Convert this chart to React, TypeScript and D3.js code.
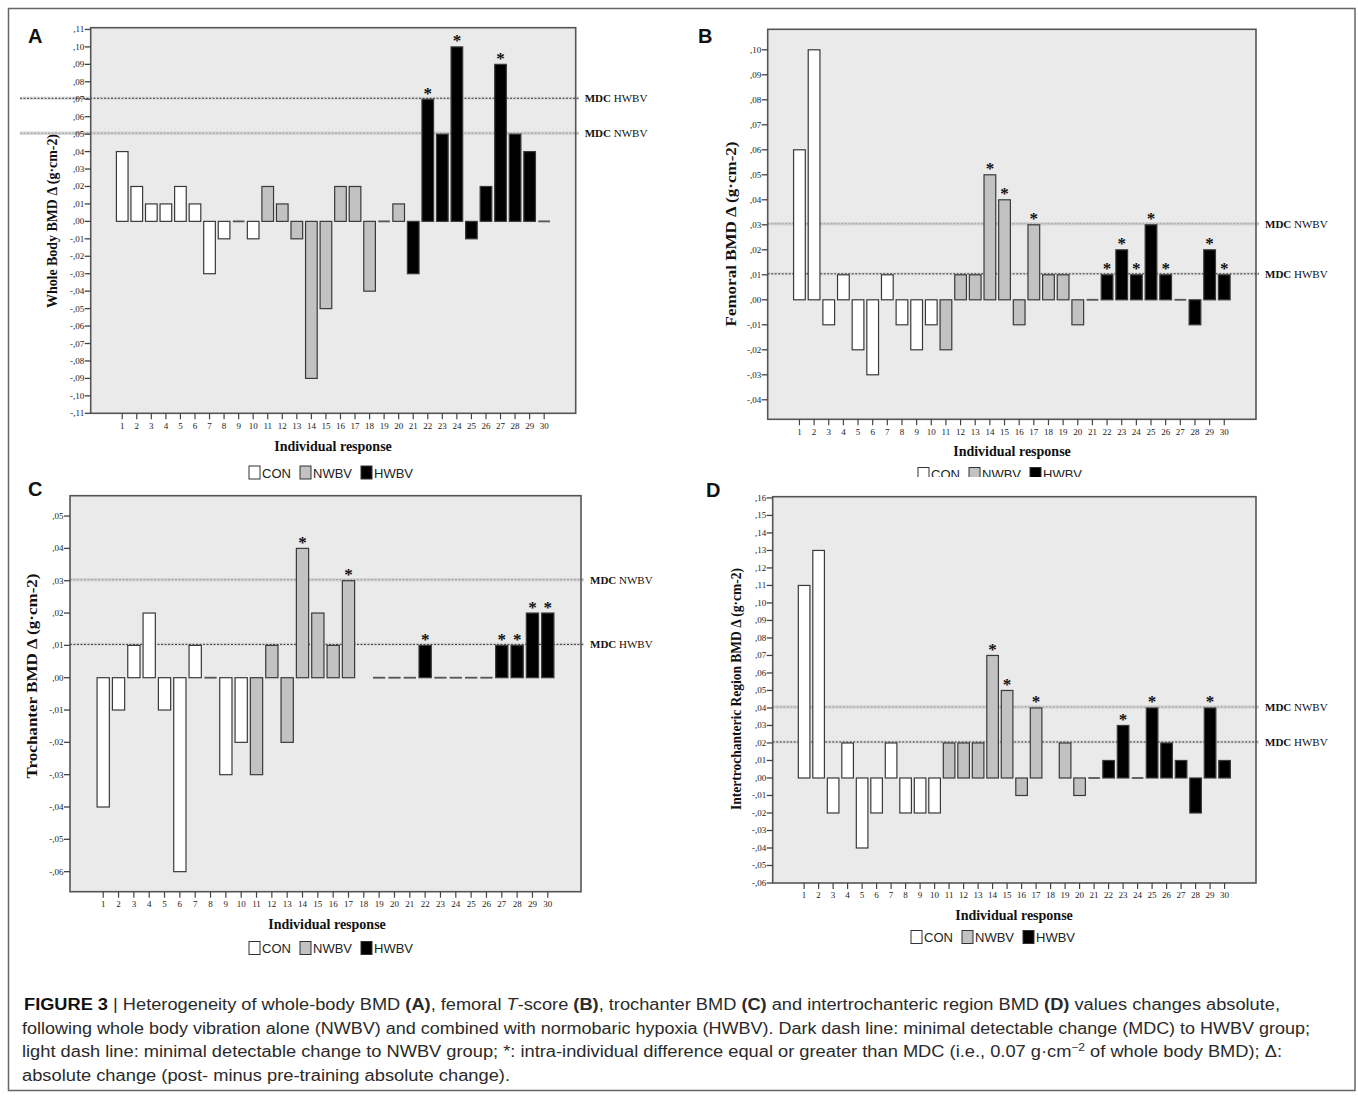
import React from 'react'
import * as d3 from 'd3'

// participants and their training group
const subjects = [1, 2, 3, 4, 5, 6, 7, 8, 9, 10, 11, 12, 13, 14, 15, 16, 17, 18, 19, 20, 21, 22, 23, 24, 25, 26, 27, 28, 29, 30]
const subjectGroup = [
  'CON', 'CON', 'CON', 'CON', 'CON', 'CON', 'CON', 'CON', 'CON', 'CON',
  'NWBV', 'NWBV', 'NWBV', 'NWBV', 'NWBV', 'NWBV', 'NWBV', 'NWBV', 'NWBV', 'NWBV',
  'HWBV', 'HWBV', 'HWBV', 'HWBV', 'HWBV', 'HWBV', 'HWBV', 'HWBV', 'HWBV', 'HWBV',
]
const groups = ['CON', 'NWBV', 'HWBV']
const groupFill: Record<string, string> = { CON: '#ffffff', NWBV: '#c2c2c2', HWBV: '#000000' }

// A - whole body BMD change
const wholeBodyValues = [0.04, 0.02, 0.01, 0.01, 0.02, 0.01, -0.03, -0.01, 0, -0.01, 0.02, 0.01, -0.01, -0.09, -0.05, 0.02, 0.02, -0.04, 0, 0.01, -0.03, 0.07, 0.05, 0.1, -0.01, 0.02, 0.09, 0.05, 0.04, 0]
const wholeBodyStars = [22, 24, 27]
const wholeBodyTicks = [-0.11, -0.1, -0.09, -0.08, -0.07, -0.06, -0.05, -0.04, -0.03, -0.02, -0.01, 0, 0.01, 0.02, 0.03, 0.04, 0.05, 0.06, 0.07, 0.08, 0.09, 0.1, 0.11]
const wholeBodyDomain = [-0.11, 0.111]
const wholeBodyMdc = [{ group: 'HWBV', value: 0.07 }, { group: 'NWBV', value: 0.05 }]

// B - femoral
const femoralValues = [0.06, 0.1, -0.01, 0.01, -0.02, -0.03, 0.01, -0.01, -0.02, -0.01, -0.02, 0.01, 0.01, 0.05, 0.04, -0.01, 0.03, 0.01, 0.01, -0.01, 0, 0.01, 0.02, 0.01, 0.03, 0.01, 0, -0.01, 0.02, 0.01]
const femoralStars = [14, 15, 17, 22, 23, 24, 25, 26, 29, 30]
const femoralTicks = [-0.04, -0.03, -0.02, -0.01, 0, 0.01, 0.02, 0.03, 0.04, 0.05, 0.06, 0.07, 0.08, 0.09, 0.1]
const femoralDomain = [-0.0478, 0.1082]
const femoralMdc = [{ group: 'NWBV', value: 0.03 }, { group: 'HWBV', value: 0.01 }]

// C - trochanter
const trochanterValues = [-0.04, -0.01, 0.01, 0.02, -0.01, -0.06, 0.01, 0, -0.03, -0.02, -0.03, 0.01, -0.02, 0.04, 0.02, 0.01, 0.03, null, 0, 0, 0, 0.01, 0, 0, 0, 0, 0.01, 0.01, 0.02, 0.02]
const trochanterStars = [14, 17, 22, 27, 28, 29, 30]
const trochanterTicks = [-0.06, -0.05, -0.04, -0.03, -0.02, -0.01, 0, 0.01, 0.02, 0.03, 0.04, 0.05]
const trochanterDomain = [-0.0662, 0.0563]
const trochanterMdc = [{ group: 'NWBV', value: 0.03 }, { group: 'HWBV', value: 0.01 }]

// D - intertrochanteric region
const intertrochValues = [0.11, 0.13, -0.02, 0.02, -0.04, -0.02, 0.02, -0.02, -0.02, -0.02, 0.02, 0.02, 0.02, 0.07, 0.05, -0.01, 0.04, null, 0.02, -0.01, 0, 0.01, 0.03, 0, 0.04, 0.02, 0.01, -0.02, 0.04, 0.01]
const intertrochStars = [14, 15, 17, 23, 25, 29]
const intertrochTicks = [-0.06, -0.05, -0.04, -0.03, -0.02, -0.01, 0, 0.01, 0.02, 0.03, 0.04, 0.05, 0.06, 0.07, 0.08, 0.09, 0.1, 0.11, 0.12, 0.13, 0.14, 0.15, 0.16]
const intertrochDomain = [-0.06, 0.1607]
const intertrochMdc = [{ group: 'NWBV', value: 0.04 }, { group: 'HWBV', value: 0.02 }]

const serif = '"Liberation Serif", "Times New Roman", serif'
const sans = '"Liberation Sans", Arial, sans-serif'

const fmt = (v: number) => {
  const s = String(Math.abs(Math.round(v * 100))).padStart(2, '0')
  return (v < -1e-9 ? '-' : '') + ',' + s
}

function Panel({ p }: { p: any }) {
  const { left, top, right, bottom } = p.frame
  const w = right - left
  const x = d3
    .scaleBand<number>()
    .domain(subjects)
    .range([left + w * 0.05, right - w * 0.05])
    .paddingInner(0.2)
    .paddingOuter(0.1)
  const y = d3.scaleLinear().domain(p.domain).range([bottom, top])
  const bw = x.bandwidth()
  const y0 = y(0)

  // legend layout
  const legendItems = [
    { g: groups[0], tw: 29 },
    { g: groups[1], tw: 39 },
    { g: groups[2], tw: 39 },
  ]
  const legendW = legendItems.reduce((s, d) => s + 13 + d.tw, 0) + 18
  let lx = p.legendCx - legendW / 2
  const legendPos = legendItems.map((d) => {
    const pos = lx
    lx += 13 + d.tw + 9
    return { ...d, x: pos }
  })

  return (
    <g clipPath={p.clip ? `url(#${p.clip})` : undefined}>
      <text x={p.letterX} y={p.letterY} fontFamily={sans} fontWeight="bold" fontSize={20} fill="#111">
        {p.letter}
      </text>
      <rect x={left} y={top} width={w} height={bottom - top} fill="#eaeaea" />

      {/* MDC lines */}
      {p.mdc.map((m: any) => (
        <g key={m.group}>
          <line
            x1={p.mdcStart ?? left}
            x2={right + 3}
            y1={y(m.value) - 1}
            y2={y(m.value) - 1}
            stroke={m.group === 'HWBV' ? '#dcdcdc' : '#d0d0d0'}
            strokeWidth={3.5}
            opacity={0.8}
          />
          <line
            x1={p.mdcStart ?? left}
            x2={right + 3}
            y1={y(m.value) - 1}
            y2={y(m.value) - 1}
            stroke={m.group === 'HWBV' ? '#333' : '#999'}
            strokeWidth={1}
            strokeDasharray="2,1.5"
          />
          <text x={right + 9} y={y(m.value) + 3} fontFamily={serif} fontSize={11} fill="#111">
            <tspan fontWeight="bold">MDC</tspan> {m.group}
          </text>
        </g>
      ))}

      {/* bars */}
      {subjects.map((s, i) => {
        const v = p.values[i]
        if (v === null || v === undefined) return null
        const g = subjectGroup[i]
        if (v === 0) {
          return (
            <line key={s} x1={x(s)!} x2={x(s)! + bw} y1={y0} y2={y0} stroke="#555" strokeWidth={1.8} />
          )
        }
        return (
          <rect
            key={s}
            x={x(s)}
            y={Math.min(y(v), y0)}
            width={bw}
            height={Math.abs(y(v) - y0)}
            fill={groupFill[g]}
            stroke="#3a3a3a"
            strokeWidth={1.2}
          />
        )
      })}

      {/* significance */}
      {p.stars.map((s: number) => {
        const v = p.values[s - 1]
        return (
          <text
            key={s}
            x={x(s)! + bw / 2}
            y={y(v) - 0.5}
            textAnchor="middle"
            fontFamily={serif}
            fontWeight="bold"
            fontSize={17}
            fill="#111"
          >
            *
          </text>
        )
      })}

      <rect x={left} y={top} width={w} height={bottom - top} fill="none" stroke="#555" strokeWidth={1.6} />

      {/* y axis */}
      {p.ticks.map((t: number) => (
        <g key={t}>
          <line x1={left - 6} x2={left} y1={y(t)} y2={y(t)} stroke="#444" strokeWidth={1.3} />
          <text x={left - 6.5} y={y(t) + 3} textAnchor="end" fontFamily={serif} fontSize={9} fill="#222">
            {fmt(t)}
          </text>
        </g>
      ))}
      <text
        transform={`translate(${p.yLabelX},${p.yLabelCy}) rotate(-90)`}
        textAnchor="middle"
        fontFamily={serif}
        fontWeight="bold"
        fontSize={14}
        fill="#111"
        textLength={p.yLabelLen}
        lengthAdjust="spacingAndGlyphs"
      >
        {p.yLabel}
      </text>

      {/* x axis */}
      {subjects.map((s) => (
        <g key={s}>
          <line x1={x(s)! + bw / 2} x2={x(s)! + bw / 2} y1={bottom} y2={bottom + 6} stroke="#444" strokeWidth={1.2} />
          <text x={x(s)! + bw / 2} y={p.xLabelY + 3} textAnchor="middle" fontFamily={serif} fontSize={9} fill="#222">
            {s}
          </text>
        </g>
      ))}
      <text x={p.xTitleCx} y={p.xTitleY + 5} textAnchor="middle" fontFamily={serif} fontWeight="bold" fontSize={14} fill="#111">
        Individual response
      </text>

      {/* legend */}
      {legendPos.map((d) => (
        <g key={d.g}>
          <rect x={d.x} y={p.legendY - 6.5} width={11} height={13} fill={groupFill[d.g]} stroke="#333" strokeWidth={1} />
          <text x={d.x + 13} y={p.legendY + 5} fontFamily={sans} fontSize={13} fill="#222">
            {d.g}
          </text>
        </g>
      ))}
    </g>
  )
}

const panels = [
  {
    letter: 'A', letterX: 28, letterY: 43,
    frame: { left: 90.7, top: 27.7, right: 575.7, bottom: 413.3 },
    values: wholeBodyValues, stars: wholeBodyStars, ticks: wholeBodyTicks, domain: wholeBodyDomain, mdc: wholeBodyMdc,
    mdcStart: 20,
    yLabel: 'Whole Body BMD Δ (g·cm-2)', yLabelX: 57, yLabelCy: 221, yLabelLen: 174,
    xLabelY: 425.7, xTitleCx: 333, xTitleY: 446, legendY: 472.5, legendCx: 331,
  },
  {
    letter: 'B', letterX: 698, letterY: 43,
    frame: { left: 767.7, top: 29.3, right: 1256, bottom: 419.3 },
    values: femoralValues, stars: femoralStars, ticks: femoralTicks, domain: femoralDomain, mdc: femoralMdc,
    yLabel: 'Femoral BMD Δ (g·cm-2)', yLabelX: 736, yLabelCy: 234, yLabelLen: 185,
    xLabelY: 432, xTitleCx: 1012, xTitleY: 451, legendY: 474, legendCx: 1000, clip: 'clipB',
  },
  {
    letter: 'C', letterX: 28, letterY: 496,
    frame: { left: 70, top: 495.7, right: 581, bottom: 891.7 },
    values: trochanterValues, stars: trochanterStars, ticks: trochanterTicks, domain: trochanterDomain, mdc: trochanterMdc,
    yLabel: 'Trochanter BMD Δ (g·cm-2)', yLabelX: 37, yLabelCy: 676, yLabelLen: 205,
    xLabelY: 904, xTitleCx: 327, xTitleY: 924, legendY: 948, legendCx: 331,
  },
  {
    letter: 'D', letterX: 706, letterY: 497,
    frame: { left: 772.7, top: 496.7, right: 1256, bottom: 883 },
    values: intertrochValues, stars: intertrochStars, ticks: intertrochTicks, domain: intertrochDomain, mdc: intertrochMdc,
    yLabel: 'Intertrochanteric Region BMD Δ (g·cm-2)', yLabelX: 741, yLabelCy: 689, yLabelLen: 242,
    xLabelY: 895, xTitleCx: 1014, xTitleY: 915, legendY: 937, legendCx: 993,
  },
]

export default function App() {
  return (
    <svg
      width={1358}
      height={1097}
      style={{ position: 'absolute', left: 0, top: 0, background: '#fff' }}
    >
      <defs>
        <clipPath id="clipB">
          <rect x={680} y={0} width={678} height={477} />
        </clipPath>
      </defs>
      <rect x={8.5} y={8.5} width={1346.5} height={1082} fill="#fff" stroke="#666" strokeWidth={1.5} />

      {panels.map((p) => (
        <Panel key={p.letter} p={p} />
      ))}

      {/* caption */}
      <g fontFamily={sans} fontSize={16} fill="#2a2a2a">
        <text x={24} y={1010} textLength={1256} lengthAdjust="spacingAndGlyphs">
          <tspan fontWeight="bold" fill="#111">FIGURE 3</tspan> | Heterogeneity of whole-body BMD{' '}
          <tspan fontWeight="bold">(A)</tspan>, femoral <tspan fontStyle="italic">T</tspan>-score{' '}
          <tspan fontWeight="bold">(B)</tspan>, trochanter BMD <tspan fontWeight="bold">(C)</tspan> and intertrochanteric
          region BMD <tspan fontWeight="bold">(D)</tspan> values changes absolute,
        </text>
        <text x={22} y={1033.5} textLength={1288} lengthAdjust="spacingAndGlyphs">
          following whole body vibration alone (NWBV) and combined with normobaric hypoxia (HWBV). Dark dash line: minimal
          detectable change (MDC) to HWBV group;
        </text>
        <text x={22} y={1057} textLength={1260} lengthAdjust="spacingAndGlyphs">
          light dash line: minimal detectable change to NWBV group; *: intra-individual difference equal or greater than MDC
          (i.e., 0.07 g·cm<tspan fontSize={10.5} dy={-6}>−2</tspan>
          <tspan dy={6}> of whole body BMD); Δ:</tspan>
        </text>
        <text x={22} y={1080.5} textLength={488} lengthAdjust="spacingAndGlyphs">
          absolute change (post- minus pre-training absolute change).
        </text>
      </g>
    </svg>
  )
}
